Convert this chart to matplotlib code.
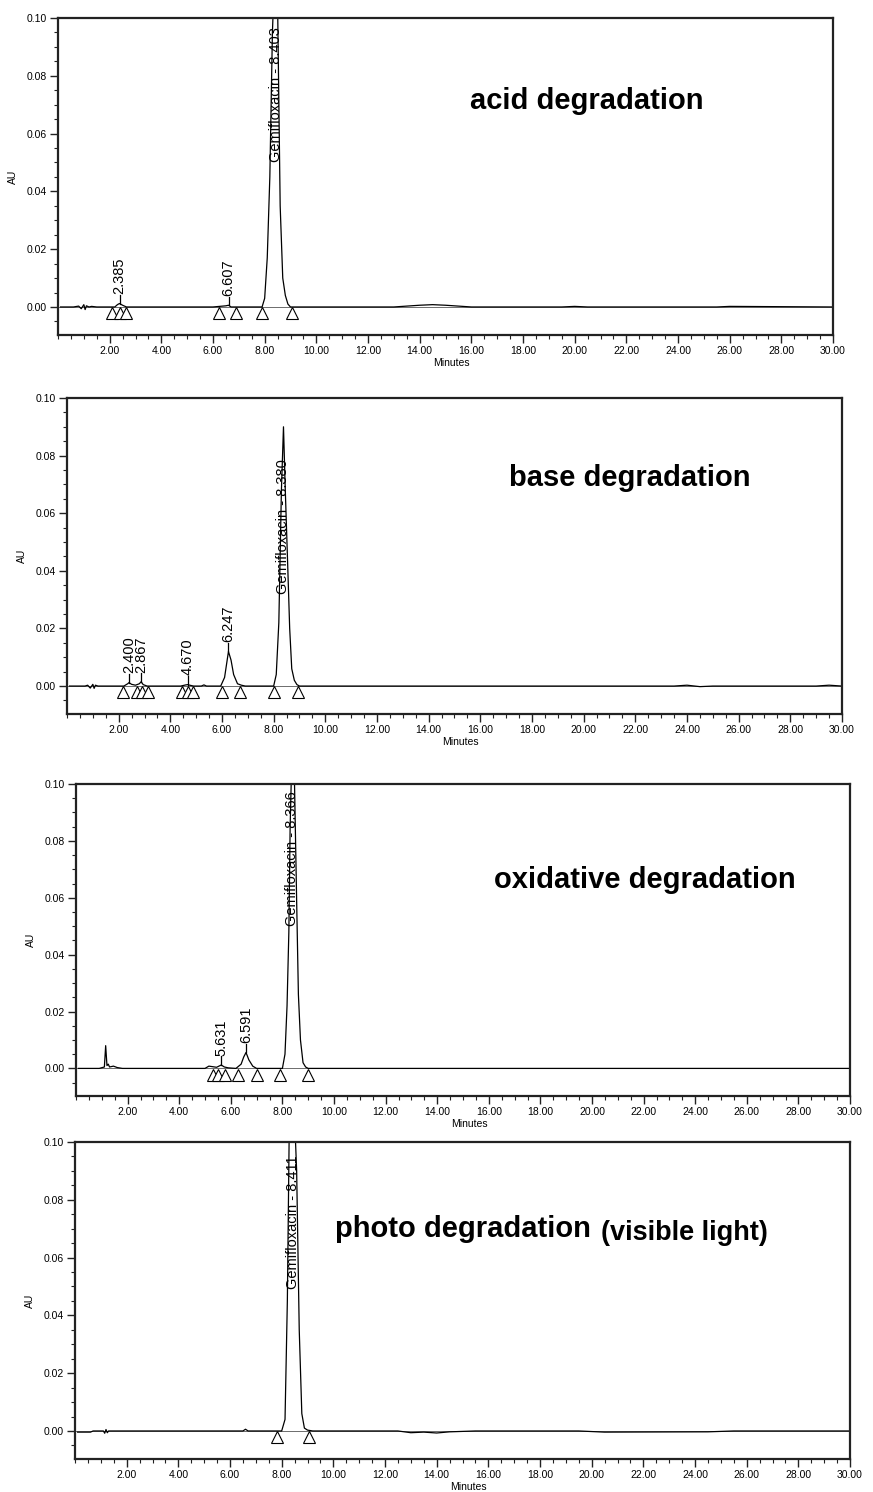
import matplotlib
matplotlib.use("Agg")
import matplotlib.pyplot as plt
from matplotlib.ticker import MultipleLocator, FixedLocator

plt.rcParams['font.family'] = ['Liberation Sans', 'DejaVu Sans']

# ---------------- data ----------------
# acid degradation trace (minutes, AU)
acid_t = [0.1, 0.6, 0.8, 0.9, 1.0, 1.05, 1.1, 1.2, 1.3, 1.5, 2.2, 2.3, 2.38, 2.5, 2.65,
          6.0, 6.5, 6.6, 6.7, 7.9, 8.0, 8.1, 8.2, 8.3, 8.4, 8.5, 8.6, 8.7, 8.8, 8.9, 9.0,
          13.0, 14.0, 14.5, 15.0, 16.0, 19.5, 20.0, 20.5, 25.5, 26.0, 30.0]
acid_y = [0.0, 0.0, 0.0003, -0.0006, 0.0008, -0.0009, 0.0004, 0.0, 0.0002, 0.0, 0.0, 0.0008, 0.0012, 0.0006, 0.0,
          0.0, 0.0004, 0.0006, 0.0, 0.0, 0.003, 0.017, 0.045, 0.095, 0.12, 0.105, 0.035, 0.010, 0.004, 0.001, 0.0,
          0.0, 0.0006, 0.0008, 0.0006, 0.0, 0.0, 0.0002, 0.0, 0.0, 0.0002, 0.0]
acid_peak_t = [2.385, 6.607]
acid_peak_h = [0.0012, 0.0006]
acid_peak_names = ["2.385", "6.607"]
acid_main_t = 8.42
acid_main_label = "Gemifloxacin - 8.403"
acid_main_label_y = 0.050
acid_tri_t = [2.1, 2.4, 2.65, 6.25, 6.9, 7.9, 9.05]

# base degradation trace
base_t = [0.1, 0.7, 0.8, 0.9, 1.0, 1.05, 1.1, 1.2, 1.4,
          2.2, 2.35, 2.4, 2.5, 2.65, 2.8, 2.87, 2.95, 3.1,
          4.4, 4.6, 4.67, 4.75, 4.9, 5.2, 5.3, 5.4,
          5.95, 6.1, 6.2, 6.25, 6.35, 6.45, 6.6, 6.75, 6.9,
          8.0, 8.1, 8.2, 8.25, 8.3, 8.38, 8.45, 8.55, 8.62, 8.7, 8.8, 8.9, 9.0,
          23.5, 24.0, 24.5, 25.0, 29.0, 29.5, 30.0]
base_y = [0.0, 0.0, 0.0003, -0.0007, 0.0006, -0.0008, 0.0003, 0.0, 0.0,
          0.0, 0.0008, 0.0012, 0.0006, 0.0003, 0.0008, 0.0015, 0.0005, 0.0,
          0.0, 0.0004, 0.0005, 0.0003, 0.0, 0.0, 0.0004, 0.0,
          0.0, 0.003, 0.009, 0.012, 0.009, 0.004, 0.0008, 0.0003, 0.0,
          0.0, 0.004, 0.022, 0.045, 0.068, 0.090, 0.068, 0.040, 0.020, 0.006, 0.002, 0.0005, 0.0,
          0.0, 0.0003, -0.0002, 0.0, 0.0, 0.0003, 0.0]
base_peak_t = [2.400, 2.867, 4.670, 6.247]
base_peak_h = [0.0012, 0.0015, 0.0005, 0.012]
base_peak_names = ["2.400", "2.867", "4.670", "6.247"]
base_main_t = 8.38
base_main_label = "Gemifloxacin - 8.380"
base_main_label_y = 0.032
base_tri_t = [2.17, 2.72, 2.9, 3.14, 4.46, 4.7, 4.89, 6.0, 6.7, 8.0, 8.96]

# oxidative degradation trace
oxid_t = [0.1, 0.9, 1.1, 1.15, 1.2, 1.25, 1.3, 1.45, 1.6, 1.8,
          5.0, 5.15, 5.3, 5.45, 5.63, 5.75, 5.9, 6.2, 6.4, 6.5, 6.59, 6.7, 6.85, 7.0,
          8.0, 8.1, 8.18, 8.25, 8.3, 8.38, 8.45, 8.55, 8.62, 8.7, 8.8, 8.9, 9.0, 30.0]
oxid_y = [0.0, 0.0, 0.0005, 0.008, 0.001, 0.0015, 0.0005, 0.0008, 0.0003, 0.0,
          0.0, 0.0008, 0.0006, 0.0004, 0.0012, 0.0005, 0.0002, 0.0, 0.0015, 0.004, 0.0056, 0.003, 0.0008, 0.0,
          0.0, 0.005, 0.022, 0.048, 0.085, 0.115, 0.11, 0.06, 0.026, 0.010, 0.002, 0.0005, 0.0, 0.0]
oxid_peak_t = [5.631, 6.591]
oxid_peak_h = [0.0012, 0.0056]
oxid_peak_names = ["5.631", "6.591"]
oxid_main_t = 8.38
oxid_main_label = "Gemifloxacin - 8.366"
oxid_main_label_y = 0.050
oxid_tri_t = [5.3, 5.5, 5.77, 6.28, 7.0, 7.9, 9.0]

# photo degradation trace
photo_t = [0.1, 0.6, 0.7, 1.1, 1.15, 1.2, 1.25, 1.3, 1.4, 6.5, 6.6, 6.7,
           8.0, 8.13, 8.22, 8.3, 8.45, 8.58, 8.68, 8.78, 8.88, 9.0, 9.2,
           12.5, 13.0, 13.5, 14.0, 14.5, 15.5, 19.5, 20.5, 24.5, 25.5, 30.0]
photo_y = [-0.0004, -0.0004, 0.0, 0.0, -0.0008, 0.0005, -0.0006, 0.0, 0.0, 0.0, 0.0006, 0.0,
           0.0, 0.004, 0.045, 0.11, 0.12, 0.09, 0.035, 0.006, 0.001, 0.0003, 0.0,
           0.0, -0.0006, -0.0004, -0.0007, -0.0003, 0.0, 0.0, -0.0004, -0.0003, 0.0, 0.0]
photo_peak_t = []
photo_peak_h = []
photo_peak_names = []
photo_main_t = 8.45
photo_main_label = "Gemifloxacin - 8.411"
photo_main_label_y = 0.049
photo_tri_t = [7.82, 9.06]

x_tick_values = [2, 4, 6, 8, 10, 12, 14, 16, 18, 20, 22, 24, 26, 28, 30]
x_tick_labels = ["2.00", "4.00", "6.00", "8.00", "10.00", "12.00", "14.00", "16.00",
                 "18.00", "20.00", "22.00", "24.00", "26.00", "28.00", "30.00"]
y_tick_values = [0.00, 0.02, 0.04, 0.06, 0.08, 0.10]
y_tick_labels = ["0.00", "0.02", "0.04", "0.06", "0.08", "0.10"]

# ---------------- figure ----------------
W, H = 873, 1492
fig = plt.figure(figsize=(W / 100, H / 100), dpi=100)

def px_axes(left, right, top, bottom):
    return fig.add_axes([left / W, 1 - bottom / H, (right - left) / W, (bottom - top) / H])

panels = [
    dict(box=(58, 833, 18, 335), t=acid_t, y=acid_y, pt=acid_peak_t, ph=acid_peak_h, pn=acid_peak_names,
         mt=acid_main_t, ml=acid_main_label, mly=acid_main_label_y, tri=acid_tri_t,
         titles=[("acid degradation", 15.95, 0.0714, 21)]),
    dict(box=(67, 842, 398, 714), t=base_t, y=base_y, pt=base_peak_t, ph=base_peak_h, pn=base_peak_names,
         mt=base_main_t, ml=base_main_label, mly=base_main_label_y, tri=base_tri_t,
         titles=[("base degradation", 17.1, 0.0722, 21)]),
    dict(box=(76, 850, 784, 1096), t=oxid_t, y=oxid_y, pt=oxid_peak_t, ph=oxid_peak_h, pn=oxid_peak_names,
         mt=oxid_main_t, ml=oxid_main_label, mly=oxid_main_label_y, tri=oxid_tri_t,
         titles=[("oxidative degradation", 16.2, 0.0662, 21)]),
    dict(box=(75, 850, 1142, 1459), t=photo_t, y=photo_y, pt=photo_peak_t, ph=photo_peak_h, pn=photo_peak_names,
         mt=photo_main_t, ml=photo_main_label, mly=photo_main_label_y, tri=photo_tri_t,
         titles=[("photo degradation", 10.07, 0.0699, 21), ("(visible light)", 20.36, 0.0685, 19.5)]),
]

for p in panels:
    ax = px_axes(*p['box'])
    ax.set_xlim(0, 30)
    ax.set_ylim(-0.0097, 0.10)
    for s in ax.spines.values():
        s.set_linewidth(1.6)
        s.set_color('#222222')
    ax.axhline(0, color='#555555', lw=0.6, zorder=1)
    ax.plot(p['t'], p['y'], color='black', lw=0.9, zorder=2)

    # minor peak labels
    for t, h, name in zip(p['pt'], p['ph'], p['pn']):
        ax.plot([t, t], [h, h + 0.003], color='black', lw=0.9)
        ax.text(t, h + 0.0032, name, rotation=90, ha='center', va='bottom', fontsize=10.5)
    # main peak label
    ax.text(p['mt'], p['mly'], p['ml'], rotation=90, ha='center', va='bottom', fontsize=10.5,
            clip_on=True, zorder=3)
    # integration markers
    ax.plot(p['tri'], [-0.0022] * len(p['tri']), linestyle='none', marker='^', markersize=8,
            mfc='white', mec='black', mew=0.8, zorder=4)

    for txt, x, yv, fs in p['titles']:
        ax.text(x, yv, txt, fontsize=fs, fontweight='bold', ha='left', va='center')

    ax.xaxis.set_major_locator(FixedLocator(x_tick_values))
    ax.set_xticklabels(x_tick_labels)
    ax.xaxis.set_minor_locator(MultipleLocator(0.5))
    ax.yaxis.set_major_locator(FixedLocator(y_tick_values))
    ax.set_yticklabels(y_tick_labels)
    ax.yaxis.set_minor_locator(MultipleLocator(0.005))
    ax.tick_params(axis='both', which='major', direction='out', length=6, width=1.0,
                   labelsize=7.5, pad=2, color='#222222')
    ax.tick_params(axis='both', which='minor', direction='out', length=3, width=0.8, color='#222222')
    ax.set_ylabel('AU', fontsize=7.5, labelpad=6)
    ax.annotate('Minutes', xy=(0.508, 0), xycoords='axes fraction', xytext=(0, -28),
                textcoords='offset pixels', ha='center', va='center', fontsize=7.5)

fig.savefig('out.png', dpi=100)
